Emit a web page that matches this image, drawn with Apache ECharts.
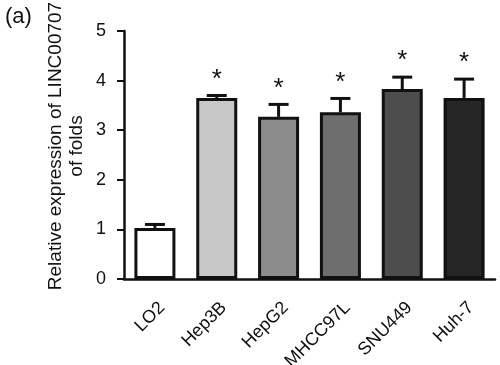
<!DOCTYPE html>
<html><head><meta charset="utf-8">
<script src="https://cdn.jsdelivr.net/npm/echarts@6/dist/echarts.min.js"></script>
<style>html,body{margin:0;padding:0;background:#fff}#c{width:500px;height:365px}</style>
</head><body><div id="c"></div>
<script>
var categories = ['LO2', 'Hep3B', 'HepG2', 'MHCC97L', 'SNU449', 'Huh-7'];
var means = [1.03, 3.65, 3.27, 3.36, 3.83, 3.65];
var errors = [0.07, 0.05, 0.25, 0.28, 0.24, 0.38];
var stars = ['', '*', '*', '*', '*', '*'];
var barColors = ['#ffffff', '#c8c8c8', '#8c8c8c', '#6e6e6e', '#4d4d4d', '#262626'];
var yTicks = [0, 1, 2, 3, 4, 5];

var font = 'Liberation Sans, Arial, sans-serif';
var chart = echarts.init(document.getElementById('c'));
chart.setOption({
  animation: false,
  title: {text: '(a)', left: 0, top: 1, textStyle: {fontFamily: font, fontWeight: 'normal', fontSize: 22, color: '#111'}},
  grid: {left: 124, right: 5, top: 31, bottom: 86, containLabel: false, outerBoundsMode: 'none'},
  xAxis: {
    type: 'category', data: categories,
    axisLine: {lineStyle: {color: '#111', width: 2.5}},
    axisTick: {alignWithLabel: true, length: 7, lineStyle: {color: '#111', width: 2}},
    axisLabel: {rotate: 45, fontFamily: font, fontSize: 18, color: '#111', margin: 33, padding: [0, -10, 0, 0]}
  },
  yAxis: {
    type: 'value', min: yTicks[0], max: yTicks[yTicks.length - 1], interval: 1,
    name: 'Relative expression of LINC00707\nof folds',
    nameLocation: 'middle', nameRotate: 90, nameGap: 37, nameMoveOverlap: false,
    nameTextStyle: {fontFamily: font, fontSize: 19, color: '#111', lineHeight: 21, padding: [0, 0, 0, 18]},
    axisLine: {show: true, lineStyle: {color: '#111', width: 2.5}},
    axisTick: {show: true, length: 7, lineStyle: {color: '#111', width: 2}},
    axisLabel: {fontFamily: font, fontSize: 18, color: '#111', margin: 18},
    splitLine: {show: false}
  },
  series: [
    {
      type: 'bar', barWidth: 41,
      data: means.map(function (v, i) {
        return {value: v, itemStyle: {color: barColors[i], borderColor: '#111', borderWidth: 3}};
      }),
      z: 2
    },
    {
      type: 'custom', z: 1,
      data: means.map(function (v, i) { return [i, v, v + errors[i], stars[i]]; }),
      renderItem: function (params, api) {
        var x = api.value(0);
        var pBase = api.coord([x, api.value(1)]);
        var pTop = api.coord([x, api.value(2)]);
        var hw = 10;
        var children = [
          {type: 'line', shape: {x1: pBase[0], y1: pBase[1], x2: pTop[0], y2: pTop[1]}, style: {stroke: '#111', lineWidth: 3}},
          {type: 'line', shape: {x1: pTop[0] - hw, y1: pTop[1], x2: pTop[0] + hw, y2: pTop[1]}, style: {stroke: '#111', lineWidth: 3}}
        ];
        var s = api.value(3);
        if (s) {
          children.push({type: 'text', style: {text: s, x: pTop[0], y: pTop[1] - 16, align: 'center', verticalAlign: 'middle', font: 'normal 26px ' + font, fill: '#111'}});
        }
        return {type: 'group', children: children};
      }
    }
  ]
});
</script></body></html>
